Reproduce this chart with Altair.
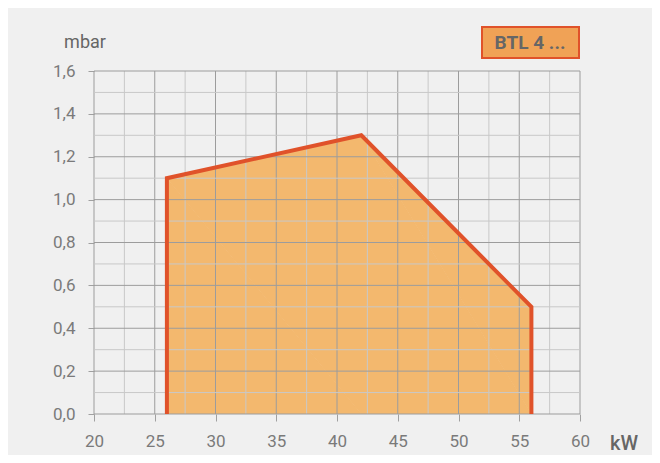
import altair as alt
import pandas as pd

kw = [26, 26, 42, 56, 56]
mbar = [0.0, 1.1, 1.3, 0.5, 0.0]
order = [0, 1, 2, 3, 4]
x_grid = [20 + 2.5 * i for i in range(17)]
y_grid = [round(0.1 * i, 1) for i in range(17)]
x_ticks = [20, 25, 30, 35, 40, 45, 50, 55, 60]
y_ticks = [0.0, 0.2, 0.4, 0.6, 0.8, 1.0, 1.2, 1.4, 1.6]
series_label = "BTL 4 ..."
x_title = "kW"
y_title = "mbar"

df = pd.DataFrame({"kw": kw, "mbar": mbar, "order": order})
gx = pd.DataFrame({"v": x_grid})
gy = pd.DataFrame({"v": y_grid})

FONT = "Roboto"
W, H = 486, 343
DARK = "#9c9c9c"
LIGHT = "#c8c8c8"

xs = alt.Scale(domain=[20, 60], nice=False, zero=False)
ys = alt.Scale(domain=[0, 1.6], nice=False)

x_axis = alt.Axis(
    values=x_ticks, title=None, domain=False, labelFlush=False, grid=False,
    format="d",
    tickColor="#a0a0a0", tickSize=7, labelPadding=12,
    labelFont=FONT, labelFontSize=17, labelColor="#7a7a7a",
)
y_axis = alt.Axis(
    values=y_ticks, title=None, domain=False, labelFlush=False, grid=False,
    labelExpr="replace(format(datum.value, '.1f'), '.', ',')",
    tickColor="#a0a0a0", tickSize=6, labelPadding=13,
    labelFont=FONT, labelFontSize=17, labelColor="#7a7a7a",
)

base = alt.Chart(df)
area = base.mark_area(color="#f3b86e", opacity=1).encode(
    x=alt.X("kw:Q", scale=xs, axis=x_axis),
    y=alt.Y("mbar:Q", scale=ys, axis=y_axis),
    order="order:Q",
).transform_filter("datum.mbar > 0")
area2 = base.mark_area(color="#f3b86e", opacity=1).encode(
    x=alt.X("kw:Q", scale=xs),
    y=alt.Y("mbar:Q", scale=ys),
    order="order:Q",
).transform_filter("datum.mbar > 0")

vrules = alt.Chart(gx).transform_calculate(
    major="round(datum.v/2.5) % 2 == 0"
).mark_rule(strokeWidth=1).encode(
    x=alt.X("v:Q", scale=xs),
    color=alt.condition("datum.major", alt.value(DARK), alt.value(LIGHT)),
)
hrules = alt.Chart(gy).transform_calculate(
    major="round(datum.v*10) % 2 == 0"
).mark_rule(strokeWidth=1).encode(
    y=alt.Y("v:Q", scale=ys),
    color=alt.condition("datum.major", alt.value(DARK), alt.value(LIGHT)),
)

line = base.mark_line(color="#e0522a", strokeWidth=4, strokeJoin="miter").encode(
    x=alt.X("kw:Q", scale=xs),
    y=alt.Y("mbar:Q", scale=ys),
    order="order:Q",
)

lab = pd.DataFrame({"t": [series_label]})
legend_rect = alt.Chart(lab).mark_rect(
    fill="#f0a256", stroke="#e0522a", strokeWidth=2
).encode(x=alt.value(388), x2=alt.value(485), y=alt.value(-44), y2=alt.value(-13))
legend_text = alt.Chart(lab).mark_text(
    font=FONT, fontSize=19, fontWeight="bold", color="#666666", align="center", baseline="middle"
).encode(x=alt.value(436), y=alt.value(-28), text="t:N")

yt = alt.Chart(pd.DataFrame({"t": [y_title]})).mark_text(
    font=FONT, fontSize=18, color="#666666", align="center", baseline="middle"
).encode(x=alt.value(-9), y=alt.value(-28), text="t:N")
xt = alt.Chart(pd.DataFrame({"t": [x_title]})).mark_text(
    font=FONT, fontSize=20, fontWeight=500, color="#666666", align="center", baseline="middle"
).encode(x=alt.value(530), y=alt.value(373), text="t:N")

chart = alt.layer(area, area2, vrules, hrules, line, legend_rect, legend_text, yt, xt).properties(
    width=W, height=H,
    background="#f0f0f0",
    padding={"left": 86, "top": 63, "right": 72, "bottom": 41},
    autosize=alt.AutoSizeParams(type="none"),
).configure_view(
    fill="#f0f0f0", stroke=None
)

chart.save("out.html", embed_options={"renderer": "svg", "actions": False})
